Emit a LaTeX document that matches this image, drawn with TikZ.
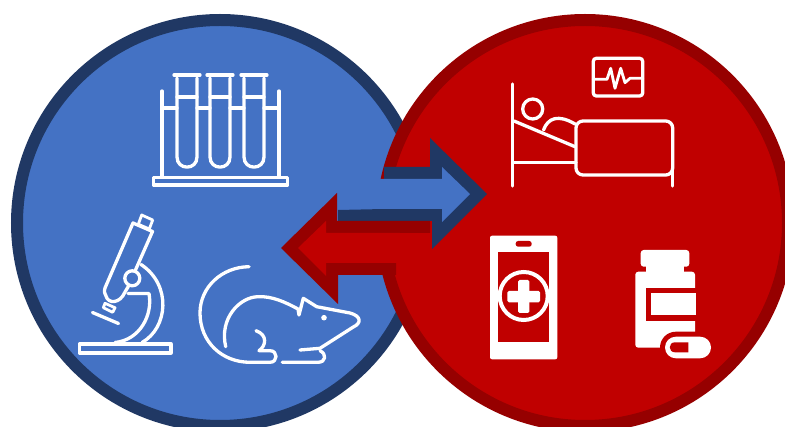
\documentclass[tikz,border=0pt]{standalone}
\usepackage{tikz}
\definecolor{labblue}{RGB}{68,114,196}
\definecolor{labnavy}{RGB}{32,56,100}
\definecolor{clinicred}{RGB}{192,0,0}
\definecolor{clinicdark}{RGB}{150,0,0}

\begin{document}
\begin{tikzpicture}[
  x=1pt, y=-1pt,
  zonecircle/.style={circle, inner sep=0pt, minimum size=406pt, line width=12pt},
  icon/.style={draw=white, line width=3.3pt, line cap=round, line join=round},
  iconthin/.style={icon, line width=2.8pt}
]
\useasboundingbox (0,0) rectangle (785,427);
\clip (0,0) rectangle (785,427);
\fill[white] (0,0) rectangle (785,427);

\node[zonecircle, draw=labnavy, fill=labblue] (lab) at (220,223) {};
\node[zonecircle, draw=clinicdark, fill=clinicred] (clinic) at (585,223) {};

% blue arrow
\fill[labnavy] (384,167) -- (430,167) -- (430,138) -- (487,194) -- (432,249) -- (432,221) -- (338,221) -- (338,210) -- (384,209) -- cycle;
\fill[labblue] (370,179) -- (442,179) -- (442,167) -- (470,194) -- (442,222) -- (442,209) -- (370,209) -- cycle;
% red arrow
\fill[clinicdark] (430,221) -- (337,221) -- (337,193) -- (281,248) -- (338,304) -- (338,275) -- (396,275) -- (396,233) -- (430,233) -- cycle;
\fill[clinicred] (400,233) -- (326,233) -- (326,221) -- (298,248) -- (326,276) -- (326,263) -- (400,263) -- cycle;

% test tubes
\draw[icon] (153.5,177.5) rectangle (287.5,185);
\draw[icon] (162,91) -- (162,176) (279,91) -- (279,176);
\draw[icon] (162,108) -- (177,108) (197,108) -- (210,108) (230,108) -- (244,108) (264,108) -- (279,108);
\foreach \tubex in {187,220,254} {
  \draw[icon] (\tubex-13,75) -- (\tubex+13,75);
  \draw[icon] (\tubex-10,78) -- (\tubex-10,157) .. controls (\tubex-10,170.5) and (\tubex+10,170.5) .. (\tubex+10,157) -- (\tubex+10,78);
  \draw[icon] (\tubex-10,97) -- (\tubex+10,97);
}

% microscope
\draw[icon] (133,223) -- (152.5,231.5) -- (128,287) -- (125,292) .. controls (120,304) and (108,304) .. (106,296) .. controls (104,292) and (104,290) .. (105,288) -- cycle;
\draw[iconthin] (141.7,215) -- (152.7,220) -- (149.3,229) -- (138.3,224.3) -- cycle;
\draw[iconthin] (105,303.3) -- (115,307.7) -- (112.7,312.3) -- (103.3,307.7) -- cycle;
\draw[icon] (92.5,312.5) -- (118.5,323.5);
\draw[icon, fill=labblue] (132.3,278.3) circle[radius=7.5];
\draw[icon] (141,264.5) .. controls (172,285) and (168,328) .. (142,342.5);
\draw[icon] (128,293.5) -- (149,293.5) .. controls (153,315) and (140,340) .. (115,342.5);
\draw[icon] (79.5,344) rectangle (171,353);

% mouse
\draw[icon] (249,266.7) .. controls (222,267) and (200,287) .. (200,313) .. controls (200,342) and (222,362.3) .. (250,362.3) -- (270,362.3) .. controls (278,362.3) and (278,350.7) .. (270,350.7) -- (259,350.7) .. controls (266,346) and (268,335) .. (256,330.7);
\draw[icon] (225.7,346.7) .. controls (219,318) and (240,297) .. (258,296.7) .. controls (272,296) and (285,302) .. (298,309) -- (299,315) -- (303.3,298.3) -- (316.7,306.7) -- (350,313) .. controls (361,316) and (362,323) .. (353.3,327) -- (320,348.3) -- (300,350);
\draw[icon] (320,350.7) .. controls (327,354) and (326,362.3) .. (318,362.3) -- (282.3,362.3);
\fill[white] (324,317.7) circle[radius=2.8];

% patient in bed
\draw[icon] (512.7,84) -- (512.7,186);
\draw[icon] (532.7,109) circle[radius=10];
\draw[icon] (514,121) -- (575,146.7);
\draw[icon] (514,162.3) -- (576,162.3);
\draw[icon] (543.5,130) .. controls (548,118) and (558,114) .. (575,124);
\draw[icon, rounded corners=7pt] (576,121) -- (672.7,121) -- (672.7,175) -- (576,175) -- cycle;
\draw[icon] (672.7,170) -- (672.7,186);
\draw[icon, rounded corners=3pt] (593.3,58.3) rectangle (642.7,96);
\draw[iconthin] (593.3,79.3) -- (607,79.3) -- (610.7,68.3) -- (615,88.3) -- (620.7,68.3) -- (625,82.7) -- (630,78.3) -- (642.7,78.3);

% phone
\fill[white, rounded corners=2pt] (490,235.7) rectangle (557.3,359.3);
\fill[clinicred] (498.3,252.3) rectangle (549,342.3);
\fill[clinicred, rounded corners=2.5pt] (515.7,241) rectangle (531.7,246.7);
\draw[draw=white, line width=4pt] (523.7,296) circle[radius=24];
\fill[white, rounded corners=1.5pt] (507.3,291) rectangle (540,302.3);
\fill[white, rounded corners=1.5pt] (518,280) rectangle (529.3,313);

% medicine bottle
\fill[white, rounded corners=3pt] (640.7,250) rectangle (689.3,266.7);
\fill[white] (645.7,265) rectangle (684,273);
\fill[white, rounded corners=3pt] (635.3,271.7) rectangle (695,347.7);
\fill[clinicred] (646,287.7) rectangle (696,320.7);
\fill[white] (651.3,293) rectangle (696,315);
\fill[clinicred, rounded corners=15.8pt] (660,331.7) rectangle (716,363.3);
\fill[white, rounded corners=10.8pt] (665,336.7) rectangle (711,358.3);
\fill[clinicred] (675,342.3) -- (688.3,342.3) -- (688.3,352.3) -- (675,352.3) .. controls (668,352.3) and (668,342.3) .. (675,342.3) -- cycle;
\end{tikzpicture}
\end{document}
